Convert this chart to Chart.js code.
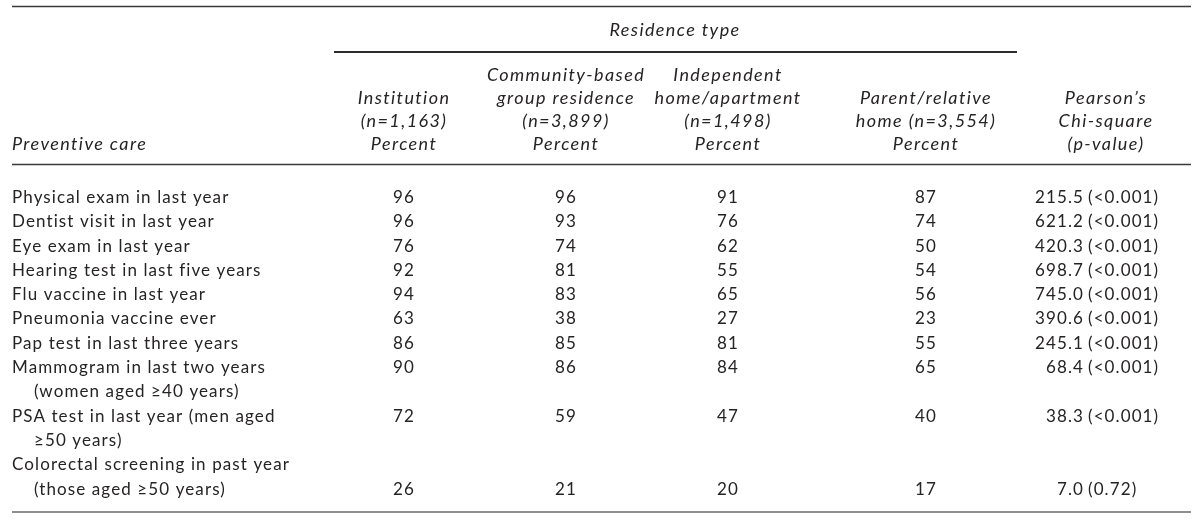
<!DOCTYPE html>
<html>
<head>
<meta charset="utf-8">
<script src="https://cdn.jsdelivr.net/npm/chart.js@4.4.1/dist/chart.umd.min.js"></script>
<style>
  html, body { margin: 0; padding: 0; background: #fff; }
  #wrap { width: 1200px; height: 520px; }
</style>
</head>
<body>
<div id="wrap"><canvas id="myChart"></canvas></div>
<script>
// table data
var careItems = [
  ['Physical exam in last year'],
  ['Dentist visit in last year'],
  ['Eye exam in last year'],
  ['Hearing test in last five years'],
  ['Flu vaccine in last year'],
  ['Pneumonia vaccine ever'],
  ['Pap test in last three years'],
  ['Mammogram in last two years', '(women aged \u226540 years)'],
  ['PSA test in last year (men aged', '\u226550 years)'],
  ['Colorectal screening in past year', '(those aged \u226550 years)']
];
var institution     = [96, 96, 76, 92, 94, 63, 86, 90, 72, 26];
var groupResidence  = [96, 93, 74, 81, 83, 38, 85, 86, 59, 21];
var independentHome = [91, 76, 62, 55, 65, 27, 81, 84, 47, 20];
var parentHome      = [87, 74, 50, 54, 56, 23, 55, 65, 40, 17];
var chiSquare = [215.5, 621.2, 420.3, 698.7, 745.0, 390.6, 245.1, 68.4, 38.3, 7.0];
var pValues = ['<0.001', '<0.001', '<0.001', '<0.001', '<0.001', '<0.001', '<0.001', '<0.001', '<0.001', '0.72'];

var columnHeaders = [
  ['Institution', '(n=1,163)', 'Percent'],
  ['Community-based', 'group residence', '(n=3,899)', 'Percent'],
  ['Independent', 'home/apartment', '(n=1,498)', 'Percent'],
  ['Parent/relative', 'home (n=3,554)', 'Percent'],
  ['Pearson\u2019s', 'Chi-square', '(p-value)']
];
var spanHeader = 'Residence type';
var stubHeader = 'Preventive care';

// layout (in canvas units, the scales run 0..1200 x 0..520)
var colX = [404, 566, 728, 926, 1106];
var chiRight = 1084;
var pLeft = 1088;
var stubX = 12, indentX = 34;
var bodyTop = 197.5, lineStep = 24.3;
var headerBottom = 144, headerStep = 23;
var valueOnLastLine = [0, 0, 0, 0, 0, 0, 0, 0, 0, 1];

var FONT = '17px Lato';
var FONT_IT = 'italic 18px Lato';
var SPACING = '1.1px';
var SPACING_IT = '1.4px';
var INK = '#262324';

// first line index of every row
var rowStart = [];
var n = 0;
for (var i = 0; i < careItems.length; i++) {
  rowStart.push(n);
  n += careItems[i].length;
}
function lineY(k) { return bodyTop + k * lineStep; }
function valueY(i) {
  var k = rowStart[i] + (valueOnLastLine[i] ? careItems[i].length - 1 : 0);
  return lineY(k);
}

// row label points
var labelPts = [], labelTexts = [];
for (var i = 0; i < careItems.length; i++) {
  for (var j = 0; j < careItems[i].length; j++) {
    labelPts.push({x: j === 0 ? stubX : indentX, y: lineY(rowStart[i] + j)});
    labelTexts.push(careItems[i][j]);
  }
}

function columnData(values, x) {
  return values.map(function(v, i) { return {x: x, y: valueY(i)}; });
}

var datasets = [
  {label: 'Preventive care', data: labelPts, texts: labelTexts, align: 'left'},
  {label: 'Institution', data: columnData(institution, colX[0]), texts: institution.map(String), align: 'center'},
  {label: 'Community-based group residence', data: columnData(groupResidence, colX[1]), texts: groupResidence.map(String), align: 'center'},
  {label: 'Independent home/apartment', data: columnData(independentHome, colX[2]), texts: independentHome.map(String), align: 'center'},
  {label: 'Parent/relative home', data: columnData(parentHome, colX[3]), texts: parentHome.map(String), align: 'center'},
  {label: 'Chi-square', data: columnData(chiSquare, chiRight), texts: chiSquare.map(function(v) { return v.toFixed(1); }), align: 'right'},
  {label: 'p-value', data: columnData(pValues, pLeft), texts: pValues.map(function(p) { return '(' + p + ')'; }), align: 'left'}
];
datasets.forEach(function(d) { d.pointRadius = 0; d.pointHoverRadius = 0; });

var tablePlugin = {
  id: 'tablePlugin',
  beforeDatasetsDraw: function(chart) {
    var ctx = chart.ctx, sx = chart.scales.x, sy = chart.scales.y;
    function rule(x1, x2, y, w, c) {
      ctx.save();
      ctx.strokeStyle = c;
      ctx.lineWidth = w;
      ctx.beginPath();
      ctx.moveTo(sx.getPixelForValue(x1), sy.getPixelForValue(y));
      ctx.lineTo(sx.getPixelForValue(x2), sy.getPixelForValue(y));
      ctx.stroke();
      ctx.restore();
    }
    rule(12, 1191, 6.5, 1.5, '#3a3a3a');
    rule(334, 1017, 52, 2, '#2a2a2a');
    rule(12, 1191, 164.5, 1.5, '#3a3a3a');
    rule(12, 1191, 512, 1.5, '#6a6a6a');

    // header texts
    ctx.save();
    ctx.fillStyle = INK;
    ctx.font = FONT_IT;
    ctx.letterSpacing = SPACING_IT;
    ctx.textBaseline = 'middle';
    ctx.textAlign = 'center';
    ctx.fillText(spanHeader, sx.getPixelForValue(675), sy.getPixelForValue(30));
    columnHeaders.forEach(function(lines, c) {
      lines.forEach(function(t, j) {
        var y = headerBottom - (lines.length - 1 - j) * headerStep;
        ctx.fillText(t, sx.getPixelForValue(colX[c]), sy.getPixelForValue(y));
      });
    });
    ctx.textAlign = 'left';
    ctx.fillText(stubHeader, sx.getPixelForValue(stubX), sy.getPixelForValue(headerBottom));
    ctx.restore();
  },
  afterDatasetsDraw: function(chart) {
    var ctx = chart.ctx;
    ctx.save();
    ctx.fillStyle = INK;
    ctx.font = FONT;
    ctx.letterSpacing = SPACING;
    ctx.textBaseline = 'middle';
    chart.data.datasets.forEach(function(ds, d) {
      var meta = chart.getDatasetMeta(d);
      ctx.textAlign = ds.align;
      meta.data.forEach(function(pt, i) {
        ctx.fillText(ds.texts[i], pt.x, pt.y);
      });
    });
    ctx.restore();
  }
};

var ctx = document.getElementById('myChart').getContext('2d');
var chart = new Chart(ctx, {
  type: 'scatter',
  data: { datasets: datasets },
  options: {
    responsive: true,
    maintainAspectRatio: false,
    animation: false,
    layout: { padding: 0 },
    plugins: { legend: { display: false }, tooltip: { enabled: false } },
    scales: {
      x: { type: 'linear', min: 0, max: 1200, display: false },
      y: { type: 'linear', min: 0, max: 520, reverse: true, display: false }
    }
  },
  plugins: [tablePlugin]
});
</script>
</body>
</html>
